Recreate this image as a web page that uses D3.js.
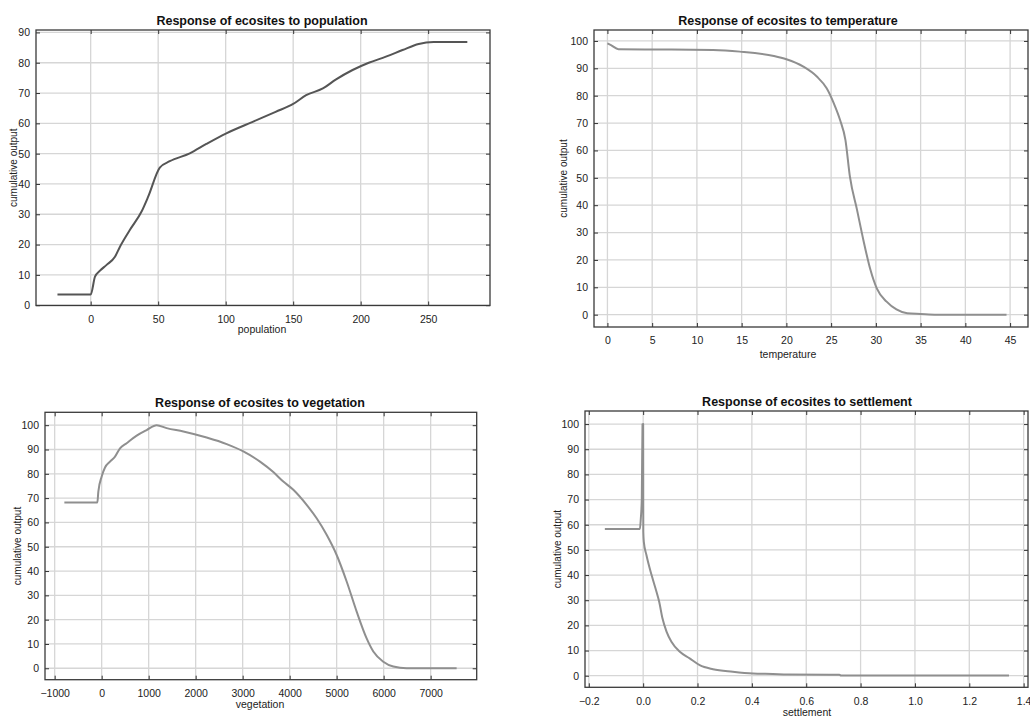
<!DOCTYPE html>
<html>
<head>
<meta charset="utf-8">
<script src="https://cdn.jsdelivr.net/npm/d3@7"></script>
<style>
  body { margin: 0; background: #fff; }
  svg { display: block; font-family: "Liberation Sans", Arial, sans-serif; }
</style>
</head>
<body>
<div id="container"></div>
<script>
var width = 1030;
var height = 718;

// population response
var popX = [-24.6, 0, 3.2, 6.9, 11.8, 18, 21.7, 29, 37.7, 42.6, 51.2, 58.6, 73.4, 85.7, 100.5, 120, 137, 150, 159.6, 172, 181.8, 194, 206, 218.7, 231, 243, 254, 279];
var popY = [3.5, 3.5, 9.4, 11.4, 13.3, 16, 19.3, 24.8, 30.9, 35.8, 45.4, 47.5, 50.1, 53.2, 56.7, 60.5, 63.8, 66.4, 69.3, 71.5, 74.5, 77.6, 80, 82, 84.2, 86.2, 86.8, 86.8];

// temperature response
var tempX = [0, 0.4, 1.23, 5, 11.8, 14.8, 18.6, 20, 21.9, 23.4, 24.5, 25.3, 26, 26.6, 27.1, 27.9, 28.6, 29.4, 30.1, 31.2, 32.3, 33.5, 35, 36.8, 44.6];
var tempY = [99.1, 98.5, 97, 96.9, 96.7, 96.1, 94.5, 93.3, 90.6, 87, 82.7, 77.2, 71.1, 63.8, 50.4, 38.2, 27.3, 16.3, 9.6, 4.75, 1.9, 0.5, 0.25, 0, 0];

// vegetation response
var vegX = [-794, -92, -71, 0, 71, 177, 284, 390, 532, 745, 957, 1170, 1383, 1738, 2234, 2660, 3014, 3369, 3652, 3865, 4078, 4362, 4574, 4787, 5000, 5213, 5426, 5638, 5780, 5993, 6206, 6489, 7553];
var vegY = [68.2, 68.2, 72.7, 78.9, 82.6, 85, 87.1, 90.5, 92.6, 95.7, 98, 100, 98.8, 97.4, 94.9, 92.2, 89.2, 85, 80.7, 76.8, 73.4, 67.2, 61.7, 54.9, 46.6, 35.7, 23.3, 12.3, 6.9, 2.7, 0.7, 0, 0];

// settlement response
var setX = [-0.141, -0.012, -0.0086, -0.005, -0.0024, 0, 0.0005, 0.0024, 0.012, 0.031, 0.049, 0.059, 0.071, 0.086, 0.104, 0.135, 0.171, 0.208, 0.257, 0.33, 0.404, 0.477, 0.532, 0.722, 0.728, 1.346];
var setY = [58.3, 58.3, 62.5, 70.5, 99.9, 100, 57.2, 53.2, 48, 40, 33.4, 29.4, 22.8, 17.5, 13.5, 9.5, 6.9, 4.2, 2.6, 1.6, 0.9, 0.7, 0.5, 0.4, 0.1, 0.1];

var popTicks = [0, 50, 100, 150, 200, 250];
var tempTicks = [0, 5, 10, 15, 20, 25, 30, 35, 40, 45];
var vegTicks = [-1000, 0, 1000, 2000, 3000, 4000, 5000, 6000, 7000];
var setTicks = [-0.2, 0, 0.2, 0.4, 0.6, 0.8, 1.0, 1.2, 1.4];
var yTicks90 = [0, 10, 20, 30, 40, 50, 60, 70, 80, 90];
var yTicks100 = [0, 10, 20, 30, 40, 50, 60, 70, 80, 90, 100];

var svg = d3.select("div#container")
  .append("svg")
  .attr("width", width)
  .attr("height", height);

function panel(cfg){
  var x = d3.scaleLinear().domain(cfg.xdom).range([cfg.left, cfg.right]);
  var y = d3.scaleLinear().domain(cfg.ydom).range([cfg.bottom, cfg.top]);
  var G = svg.append("g");

  // grid
  G.selectAll("line.vgrid").data(cfg.xticks).enter().append("line")
    .attr("x1", function(d){ return x(d); }).attr("x2", function(d){ return x(d); })
    .attr("y1", cfg.top).attr("y2", cfg.bottom)
    .attr("stroke", "#d6d6d6").attr("stroke-width", 1.3);
  G.selectAll("line.hgrid").data(cfg.yticks).enter().append("line")
    .attr("y1", function(d){ return y(d); }).attr("y2", function(d){ return y(d); })
    .attr("x1", cfg.left).attr("x2", cfg.right)
    .attr("stroke", "#d6d6d6").attr("stroke-width", 1.3);

  // curve
  var pts = cfg.xs.map(function(v, i){ return [v, cfg.ys[i]]; });
  G.append("path")
    .datum(pts)
    .attr("d", d3.line().curve(d3.curveMonotoneX)
      .x(function(d){ return x(d[0]); }).y(function(d){ return y(d[1]); }))
    .attr("fill", "none")
    .attr("stroke", cfg.color)
    .attr("stroke-width", 2)
    .attr("stroke-linejoin", "round");

  // axes with inward ticks on all sides
  var fmt = cfg.xfmt || d3.format("");
  G.append("g").attr("transform", "translate(0," + cfg.bottom + ")")
    .call(d3.axisBottom(x).tickValues(cfg.xticks).tickSizeInner(-4).tickSizeOuter(0).tickPadding(10).tickFormat(fmt));
  G.append("g").attr("transform", "translate(0," + cfg.top + ")")
    .call(d3.axisTop(x).tickValues(cfg.xticks).tickSizeInner(-4).tickSizeOuter(0).tickFormat(""));
  G.append("g").attr("transform", "translate(" + cfg.left + ",0)")
    .call(d3.axisLeft(y).tickValues(cfg.yticks).tickSizeInner(-4).tickSizeOuter(0).tickPadding(6));
  G.append("g").attr("transform", "translate(" + cfg.right + ",0)")
    .call(d3.axisRight(y).tickValues(cfg.yticks).tickSizeInner(-4).tickSizeOuter(0).tickFormat(""));

  G.selectAll(".domain").remove();
  G.selectAll(".tick line").attr("stroke", "#333");
  G.selectAll(".tick text").attr("font-size", 10.5).attr("fill", "#222")
    .attr("font-family", "'Liberation Sans', Arial, sans-serif");

  // frame
  G.append("rect")
    .attr("x", cfg.left).attr("y", cfg.top)
    .attr("width", cfg.right - cfg.left).attr("height", cfg.bottom - cfg.top)
    .attr("fill", "none").attr("stroke", "#3a3a3a").attr("stroke-width", 1.3);

  // title & labels
  G.append("text").text(cfg.title)
    .attr("x", cfg.titleX).attr("y", cfg.top - 5)
    .attr("text-anchor", "middle").attr("font-size", 12.5).attr("font-weight", "bold").attr("fill", "#111");
  G.append("text").text(cfg.xlabel)
    .attr("x", cfg.titleX).attr("y", cfg.xlabelY)
    .attr("text-anchor", "middle").attr("font-size", 10.5).attr("fill", "#222");
  G.append("text").text("cumulative output")
    .attr("transform", "translate(" + cfg.ylabelX + "," + ((cfg.top + cfg.bottom) / 2) + ") rotate(-90)")
    .attr("text-anchor", "middle").attr("font-size", 10).attr("fill", "#222");
}

panel({
  title: "Response of ecosites to population", xlabel: "population",
  xs: popX, ys: popY, xticks: popTicks, yticks: yTicks90,
  xdom: [-40.5, 295.8], ydom: [-0.1, 90.8],
  left: 36, right: 490, top: 30, bottom: 305.5,
  titleX: 262, xlabelY: 333, ylabelX: 17, color: "#555"
});

panel({
  title: "Response of ecosites to temperature", xlabel: "temperature",
  xs: tempX, ys: tempY, xticks: tempTicks, yticks: yTicks100,
  xdom: [-1.5, 47], ydom: [-4.5, 104],
  left: 594, right: 1028, top: 30, bottom: 327,
  titleX: 788, xlabelY: 358, ylabelX: 567, color: "#8f8f8f"
});

panel({
  title: "Response of ecosites to vegetation", xlabel: "vegetation",
  xs: vegX, ys: vegY, xticks: vegTicks, yticks: yTicks100,
  xdom: [-1206, 7980], ydom: [-4.7, 105.3],
  left: 45, right: 476.7, top: 412.3, bottom: 679.7,
  titleX: 260, xlabelY: 708, ylabelX: 21, color: "#8f8f8f"
});

panel({
  title: "Response of ecosites to settlement", xlabel: "settlement",
  xs: setX, ys: setY, xticks: setTicks, yticks: yTicks100,
  xdom: [-0.214, 1.416], ydom: [-4.6, 105.2],
  left: 585, right: 1028, top: 411, bottom: 687.3,
  titleX: 807, xlabelY: 716, ylabelX: 561, color: "#8f8f8f",
  xfmt: d3.format(".1f")
});
</script>
</body>
</html>
